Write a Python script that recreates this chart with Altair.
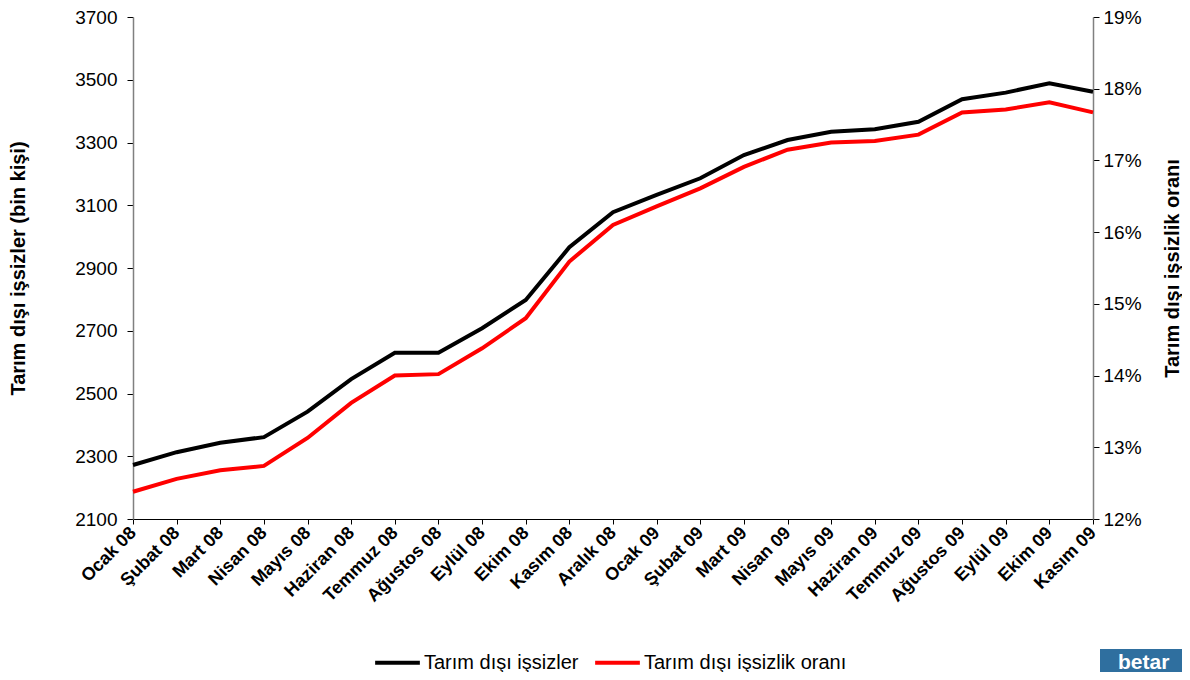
import altair as alt
import pandas as pd

months = ["Ocak 08", "Şubat 08", "Mart 08", "Nisan 08", "Mayıs 08", "Haziran 08",
          "Temmuz 08", "Ağustos 08", "Eylül 08", "Ekim 08", "Kasım 08", "Aralık 08",
          "Ocak 09", "Şubat 09", "Mart 09", "Nisan 09", "Mayıs 09", "Haziran 09",
          "Temmuz 09", "Ağustos 09", "Eylül 09", "Ekim 09", "Kasım 09"]
issiz = [2272, 2313, 2343, 2361, 2442, 2546, 2630, 2630, 2708, 2798, 2966, 3078,
         3133, 3186, 3260, 3308, 3334, 3342, 3366, 3438, 3459, 3489, 3462]
oran = [12.38, 12.56, 12.68, 12.74, 13.13, 13.62, 14.00, 14.02, 14.38, 14.80, 15.59, 16.10,
        16.36, 16.61, 16.91, 17.15, 17.25, 17.27, 17.36, 17.67, 17.71, 17.81, 17.67]
left_ticks = [2100, 2300, 2500, 2700, 2900, 3100, 3300, 3500, 3700]
right_ticks = [0.12, 0.13, 0.14, 0.15, 0.16, 0.17, 0.18, 0.19]

SER1 = "Tarım dışı işsizler"
SER2 = "Tarım dışı işsizlik oranı"
FONT = "Liberation Sans"

df1 = pd.DataFrame({"ay": months, "deger": issiz, "seri": SER1})
df2 = pd.DataFrame({"ay": months, "deger": [v / 100 for v in oran], "seri": SER2})

color = alt.Color(
    "seri:N",
    scale=alt.Scale(domain=[SER1, SER2], range=["#000000", "#ff0000"]),
    legend=alt.Legend(
        title=None, orient="none", legendX=240, legendY=621, direction="horizontal",
        symbolType="stroke", symbolStrokeWidth=4, symbolSize=2000,
        labelFontSize=20, labelFont=FONT, labelColor="black", labelLimit=0,
        columnPadding=8, labelOffset=2,
    ),
)

x = alt.X(
    "ay:N", sort=months,
    scale=alt.Scale(type="point", padding=0),
    axis=alt.Axis(
        title=None, labelAngle=-45, labelAlign="right", labelBaseline="middle",
        labelFontSize=18, labelFontWeight="bold", labelFont=FONT, labelColor="black",
        domainColor="black", tickColor="black", tickSize=5, labelPadding=6,
        grid=False, labelOverlap=False,
    ),
)

left = alt.Chart(df1).mark_line(strokeWidth=4).encode(
    x=x,
    y=alt.Y(
        "deger:Q",
        scale=alt.Scale(domain=[2100, 3700], nice=False, zero=False),
        axis=alt.Axis(
            values=left_ticks, format="d", title="Tarım dışı işsizler (bin kişi)",
            titleFontSize=20, titleFontWeight="bold", titleFont=FONT, titleColor="black",
            labelFontSize=19, labelFont=FONT, labelColor="black",
            domainColor="#808080", domainWidth=1.5, tickColor="black", tickSize=6,
            labelPadding=10, titlePadding=46, grid=False,
        ),
    ),
    color=color,
)

right = alt.Chart(df2).mark_line(strokeWidth=4).encode(
    x=x,
    y=alt.Y(
        "deger:Q",
        scale=alt.Scale(domain=[0.12, 0.19], nice=False, zero=False),
        axis=alt.Axis(
            orient="right", values=right_ticks, format=".0%",
            title="Tarım dışı işsizlik oranı", titleAngle=270, titleBaseline="top",
            titleFontSize=20, titleFontWeight="bold", titleFont=FONT, titleColor="black",
            labelFontSize=19, labelFont=FONT, labelColor="black",
            domainColor="#808080", domainWidth=1.5, tickColor="black", tickSize=6,
            labelPadding=4, titlePadding=21, grid=False,
        ),
    ),
    color=color,
)

logo_bg = alt.Chart(pd.DataFrame({"a": [0]})).mark_rect(color="#2f6f9f").encode(
    x=alt.value(967), x2=alt.value(1057), y=alt.value(632), y2=alt.value(660)
)
logo_txt = alt.Chart(pd.DataFrame({"a": [0]})).mark_text(
    text="betar", color="white", fontSize=21, fontWeight="bold", font=FONT, align="left", baseline="middle"
).encode(x=alt.value(985), y=alt.value(646))

chart = alt.layer(left, right, logo_bg, logo_txt).resolve_scale(y="independent").properties(
    width=960, height=502,
    autosize=alt.AutoSizeParams(type="none"),
    padding={"left": 125, "top": 9, "right": 89, "bottom": 153},
).configure_view(stroke=None)

chart.save("out.html", embed_options={"renderer": "svg", "actions": False})
